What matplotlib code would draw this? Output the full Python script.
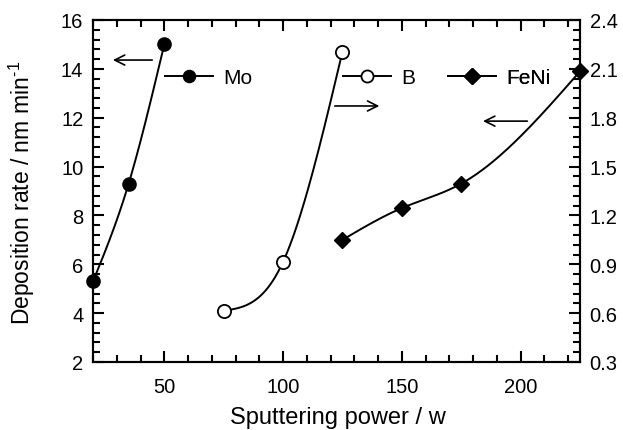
import numpy as np
import matplotlib
matplotlib.use("Agg")
import matplotlib.pyplot as plt
from matplotlib.ticker import MultipleLocator, AutoMinorLocator, FormatStrFormatter
from matplotlib.lines import Line2D

plt.rcParams['font.family'] = ['Liberation Sans', 'DejaVu Sans']
plt.rcParams['mathtext.default'] = 'regular'

# Data
mo_power = [20, 35, 50]
mo_rate = [5.3, 9.3, 15.0]          # left axis, nm/min
b_power = [75, 100, 125]
b_rate = [0.615, 0.915, 2.205]      # right axis
feni_power = [125, 150, 175, 225]
feni_rate = [7.0, 8.3, 9.3, 13.9]   # left axis

x_ticks = [50, 100, 150, 200]
left_ticks = [2, 4, 6, 8, 10, 12, 14, 16]
right_ticks = [0.3, 0.6, 0.9, 1.2, 1.5, 1.8, 2.1, 2.4]


def natural_spline(x, y, n=200):
    x = np.asarray(x, float); y = np.asarray(y, float)
    k = len(x)
    h = np.diff(x)
    A = np.zeros((k, k)); r = np.zeros(k)
    A[0, 0] = 1; A[-1, -1] = 1
    for i in range(1, k - 1):
        A[i, i - 1] = h[i - 1]
        A[i, i] = 2 * (h[i - 1] + h[i])
        A[i, i + 1] = h[i]
        r[i] = 6 * ((y[i + 1] - y[i]) / h[i] - (y[i] - y[i - 1]) / h[i - 1])
    M = np.linalg.solve(A, r)
    xs = np.linspace(x[0], x[-1], n)
    ys = np.empty_like(xs)
    for j, xv in enumerate(xs):
        i = min(np.searchsorted(x, xv, side='right') - 1, k - 2)
        t1 = x[i + 1] - xv; t0 = xv - x[i]
        ys[j] = (M[i] * t1**3 + M[i + 1] * t0**3) / (6 * h[i]) \
            + (y[i] / h[i] - M[i] * h[i] / 6) * t1 \
            + (y[i + 1] / h[i] - M[i + 1] * h[i] / 6) * t0
    return xs, ys


fig = plt.figure(figsize=(6.23, 4.31), dpi=100)
ax = fig.add_axes([0.1493, 0.1578, 0.7817, 0.7935])
ax2 = ax.twinx()

lw = 1.4
cms = 9.5
dms = 8.3
xs, ys = natural_spline(mo_power, mo_rate)
ax.plot(xs, ys, color='black', lw=lw, clip_on=False)
ax.plot(mo_power, mo_rate, 'o', color='black', ms=cms, clip_on=False, zorder=5)

xs, ys = natural_spline(feni_power, feni_rate)
ax.plot(xs, ys, color='black', lw=lw, clip_on=False)
ax.plot(feni_power, feni_rate, 'D', color='black', ms=dms, clip_on=False, zorder=5)

xs, ys = natural_spline(b_power, b_rate)
ax2.plot(xs, ys, color='black', lw=lw, clip_on=False)
ax2.plot(b_power, b_rate, 'o', mfc='white', mec='black', mew=1.3, ms=cms, clip_on=False, zorder=5)

ax.set_xlim(20, 225)
ax.set_ylim(2, 16)
ax2.set_ylim(0.3, 2.4)

ax.set_xticks(x_ticks)
ax.set_yticks(left_ticks)
ax2.set_yticks(right_ticks)
ax2.yaxis.set_major_formatter(FormatStrFormatter('%.1f'))
ax.xaxis.set_minor_locator(MultipleLocator(10))
ax.yaxis.set_minor_locator(AutoMinorLocator(5))
ax2.yaxis.set_minor_locator(AutoMinorLocator(5))

ax.tick_params(axis='x', which='both', direction='in', top=True, bottom=True)
ax.tick_params(axis='x', which='major', pad=11)
ax.tick_params(axis='y', which='both', direction='in', left=True, right=False)
ax.tick_params(axis='y', which='major', pad=7)
ax2.tick_params(axis='y', which='both', direction='in', right=True)
ax2.tick_params(axis='y', which='major', pad=7)
for a in (ax, ax2):
    a.tick_params(which='major', length=8, width=1.5, labelsize=14.5)
    a.tick_params(which='minor', length=5, width=1.5)
    for s in a.spines.values():
        s.set_linewidth(1.5)

ax.set_xlabel('Sputtering power / w', fontsize=17)
ax.set_ylabel('Deposition rate / nm min$^{\u2010\u200a1}$', fontsize=16.5)
ax.xaxis.set_label_coords(0.502, -0.13)
ax.yaxis.set_label_coords(-0.114, 0.4985)

# arrows
arr = dict(arrowstyle='->', color='black', lw=1.2, mutation_scale=18)
ax.annotate('', xy=(27.2, 14.36), xytext=(46.1, 14.36), arrowprops=arr)
ax.annotate('', xy=(141.7, 12.48), xytext=(120.6, 12.48), arrowprops=arr)
ax.annotate('', xy=(183.0, 11.86), xytext=(204.0, 11.86), arrowprops=arr)

# legends
def leg(handle, label, x0):
    lg = ax.legend([handle], [label], loc='center left', bbox_to_anchor=(x0, 0.832),
                   frameon=False, fontsize=15, handlelength=2.3, handletextpad=0.5,
                   borderaxespad=0, borderpad=0)
    ax.add_artist(lg)

leg(Line2D([], [], color='black', lw=lw, marker='o', ms=8.7), 'Mo', (165 - 93) / 487)
leg(Line2D([], [], color='black', lw=lw, marker='o', mfc='white', mew=1.3, ms=8.7), 'B', (343 - 93) / 487)
leg(Line2D([], [], color='black', lw=lw, marker='D', ms=dms), 'FeNi', (448 - 93) / 487)

fig.savefig('out.png', dpi=100)
